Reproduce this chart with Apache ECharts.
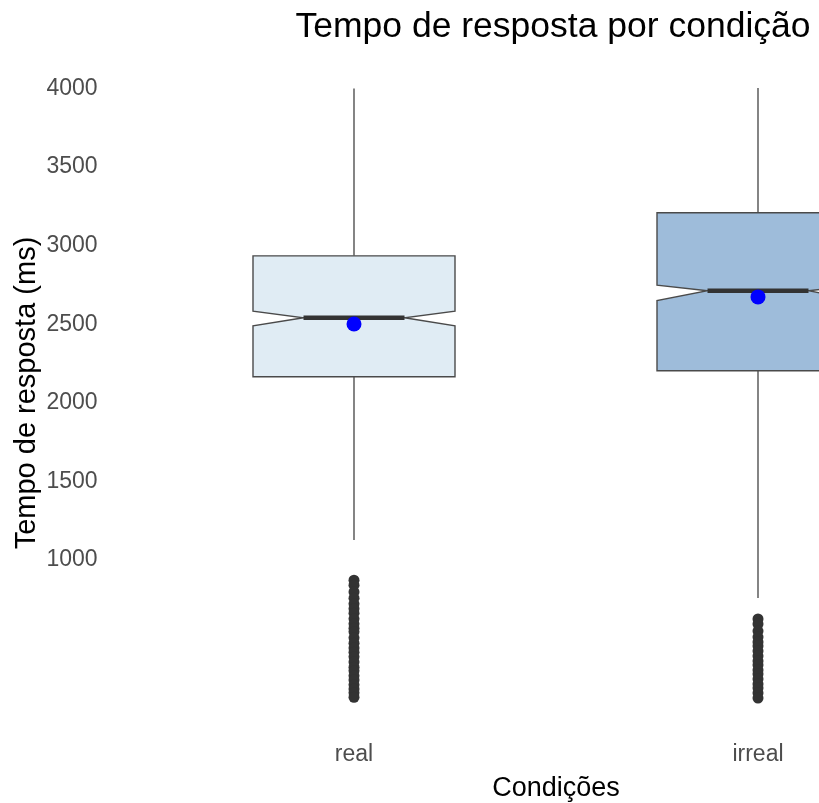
<!DOCTYPE html>
<html>
<head>
<meta charset="utf-8">
<script src="https://cdn.jsdelivr.net/npm/echarts@6/dist/echarts.min.js"></script>
<style>
html, body { margin: 0; padding: 0; background: #ffffff; overflow: hidden; }
#wrap { width: 819px; height: 803px; overflow: hidden; position: relative; }
#chart { width: 1106px; height: 803px; position: absolute; left: 0; top: 0; }
</style>
</head>
<body>
<div id="wrap"><div id="chart"></div></div>
<script>
// ---- data ----
const categories = ['real', 'irreal'];
const whiskerLow = [1127, 758];
const q1 = [2166, 2204];
const notchLow = [2490, 2650];
const median = [2541, 2713];
const notchHigh = [2583, 2749];
const q3 = [2935, 3209];
const whiskerHigh = [4000, 4003];
const means = [2501, 2674];
const outliersReal = [872, 840, 797, 757, 721, 690, 662, 626, 594, 566, 543, 505, 471, 441, 414, 384, 352, 318, 295, 263, 236, 206, 179, 155, 127];
const outliersIrreal = [625, 593, 548, 510, 478, 453, 421, 389, 357, 332, 300, 275, 243, 211, 186, 154, 122];
const yTickLabels = [1000, 1500, 2000, 2500, 3000, 3500, 4000];

// ---- styles ----
const boxFills = ['#e0ecf4', '#9ebcda'];
const FONT = '"Liberation Sans", Arial, sans-serif';

const boxData = categories.map((c, i) => [i + 1, whiskerLow[i], q1[i], notchLow[i], median[i], notchHigh[i], q3[i], whiskerHigh[i]]);
const outlierData = [];
outliersReal.forEach(v => outlierData.push([1, v]));
outliersIrreal.forEach(v => outlierData.push([2, v]));
const meanData = means.map((m, i) => [i + 1, m]);

const chart = echarts.init(document.getElementById('chart'), null, { renderer: 'canvas' });

function renderBox(params, api) {
  const x = api.value(0);
  const wl = api.value(1), lq = api.value(2), nl = api.value(3), md = api.value(4),
        nh = api.value(5), uq = api.value(6), wh = api.value(7);
  const hw = 0.25, nw = 0.125;
  const c = (xx, yy) => api.coord([xx, yy]);
  const pts = [
    c(x - hw, uq), c(x + hw, uq), c(x + hw, nh), c(x + nw, md), c(x + hw, nl),
    c(x + hw, lq), c(x - hw, lq), c(x - hw, nl), c(x - nw, md), c(x - hw, nh)
  ];
  const top1 = c(x, uq), top2 = c(x, wh), bot1 = c(x, lq), bot2 = c(x, wl);
  const m1 = c(x - nw, md), m2 = c(x + nw, md);
  return {
    type: 'group',
    children: [
      { type: 'line', shape: { x1: top1[0], y1: top1[1], x2: top2[0], y2: top2[1] }, style: { stroke: '#333333', lineWidth: 1.2 } },
      { type: 'line', shape: { x1: bot1[0], y1: bot1[1], x2: bot2[0], y2: bot2[1] }, style: { stroke: '#333333', lineWidth: 1.2 } },
      { type: 'polygon', shape: { points: pts }, style: { fill: boxFills[params.dataIndex], stroke: '#4a4a4a', lineWidth: 1.4 } },
      { type: 'line', shape: { x1: m1[0], y1: m1[1], x2: m2[0], y2: m2[1] }, style: { stroke: '#333333', lineWidth: 4.5 } }
    ]
  };
}

chart.setOption({
  animation: false,
  backgroundColor: '#ffffff',
  title: {
    text: 'Tempo de resposta por condição',
    left: 'center',
    top: 4,
    textStyle: { color: '#000000', fontSize: 35.5, fontWeight: 'normal', fontFamily: FONT }
  },
  grid: { left: 111.6, right: 105.6, top: 57, bottom: 74, containLabel: false, outerBoundsMode: 'none' },
  xAxis: {
    type: 'value',
    min: 0.4,
    max: 2.6,
    name: 'Condições',
    nameLocation: 'middle',
    nameGap: 46,
    nameMoveOverlap: false,
    nameTextStyle: { color: '#000000', fontSize: 27, fontFamily: FONT },
    axisLine: { show: false },
    axisTick: { show: false },
    splitLine: { show: false },
    axisLabel: {
      customValues: [1, 2],
      formatter: v => categories[Math.round(v) - 1] || '',
      color: '#4d4d4d',
      fontSize: 23,
      fontFamily: FONT,
      margin: 14
    }
  },
  yAxis: {
    type: 'value',
    min: -75,
    max: 4200,
    name: 'Tempo de resposta (ms)',
    nameLocation: 'middle',
    nameGap: 70,
    nameMoveOverlap: false,
    nameRotate: 90,
    nameTextStyle: { color: '#000000', fontSize: 29, fontFamily: FONT },
    axisLine: { show: false },
    axisTick: { show: false },
    splitLine: { show: false },
    axisLabel: {
      customValues: yTickLabels,
      formatter: v => String(v),
      color: '#4d4d4d',
      fontSize: 23,
      fontFamily: FONT,
      margin: 14
    }
  },
  series: [
    {
      type: 'custom',
      renderItem: renderBox,
      data: boxData,
      encode: { x: 0, y: [1, 2, 3, 4, 5, 6, 7] },
      z: 2
    },
    {
      type: 'scatter',
      data: outlierData,
      symbol: 'circle',
      symbolSize: 11,
      itemStyle: { color: '#333333', opacity: 1 },
      z: 3
    },
    {
      type: 'scatter',
      data: meanData,
      symbol: 'circle',
      symbolSize: 15,
      itemStyle: { color: '#0000ff', opacity: 1 },
      z: 4
    }
  ]
});
</script>
</body>
</html>
